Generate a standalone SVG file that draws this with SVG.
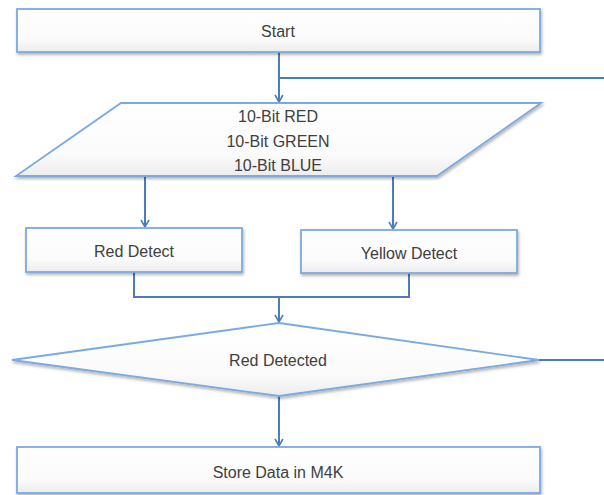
<svg xmlns="http://www.w3.org/2000/svg" width="604" height="495" viewBox="0 0 604 495">
<style>
.box{fill:url(#g);stroke:#7aaae0;stroke-width:1.8;filter:url(#sh)}
.t{font-family:"Liberation Sans",Arial,sans-serif;font-size:16px;fill:#404040;text-anchor:middle;dominant-baseline:central}
.c{fill:none;stroke:#4a7ebb;stroke-width:2}
</style>
<defs>
<linearGradient id="g" x1="0" y1="0" x2="0" y2="1">
<stop offset="0" stop-color="#ffffff"/>
<stop offset="0.7" stop-color="#fbfbfb"/>
<stop offset="1" stop-color="#ececec"/>
</linearGradient>
<filter id="sh" x="-5%" y="-10%" width="110%" height="130%">
<feDropShadow dx="1" dy="2" stdDeviation="1.5" flood-color="#000" flood-opacity="0.3"/>
</filter>
<marker id="a" markerWidth="10" markerHeight="10" refX="8" refY="5" orient="auto" markerUnits="userSpaceOnUse">
<path d="M1,1 L8,5 L1,9" fill="none" stroke="#4a7ebb" stroke-width="1.6"/>
</marker>
</defs>
<g id="connectors">
<path class="c" d="M279,52 V102" marker-end="url(#a)"/>
<path class="c" d="M279,78 H604"/>
<path class="c" d="M145,176 V227" marker-end="url(#a)"/>
<path class="c" d="M393,176 V229" marker-end="url(#a)"/>
<path class="c" d="M134,272 V297 H409 V273"/>
<path class="c" d="M279,297 V322" marker-end="url(#a)"/>
<path class="c" d="M539,360 H604"/>
<path class="c" d="M279,396 V446" marker-end="url(#a)"/>
</g>
<g id="start">
<rect class="box" x="17" y="9" width="523" height="43"/>
<text class="t" x="278" y="31">Start</text>
</g>
<g id="input">
<polygon class="box" points="121,103 541,103 437,176 16,176"/>
<text class="t" x="278" y="116">10-Bit RED</text>
<text class="t" x="278" y="141">10-Bit GREEN</text>
<text class="t" x="278" y="165">10-Bit BLUE</text>
</g>
<g id="red-detect">
<rect class="box" x="26" y="228" width="216" height="44"/>
<text class="t" x="134" y="251">Red Detect</text>
</g>
<g id="yellow-detect">
<rect class="box" x="301" y="230" width="216" height="43"/>
<text class="t" x="409" y="253">Yellow Detect</text>
</g>
<g id="red-detected">
<polygon class="box" points="279,323 539,360 279,396 12,360"/>
<text class="t" x="278" y="360">Red Detected</text>
</g>
<g id="store">
<rect class="box" x="17" y="447" width="523" height="46"/>
<text class="t" x="278" y="472">Store Data in M4K</text>
</g>
</svg>
